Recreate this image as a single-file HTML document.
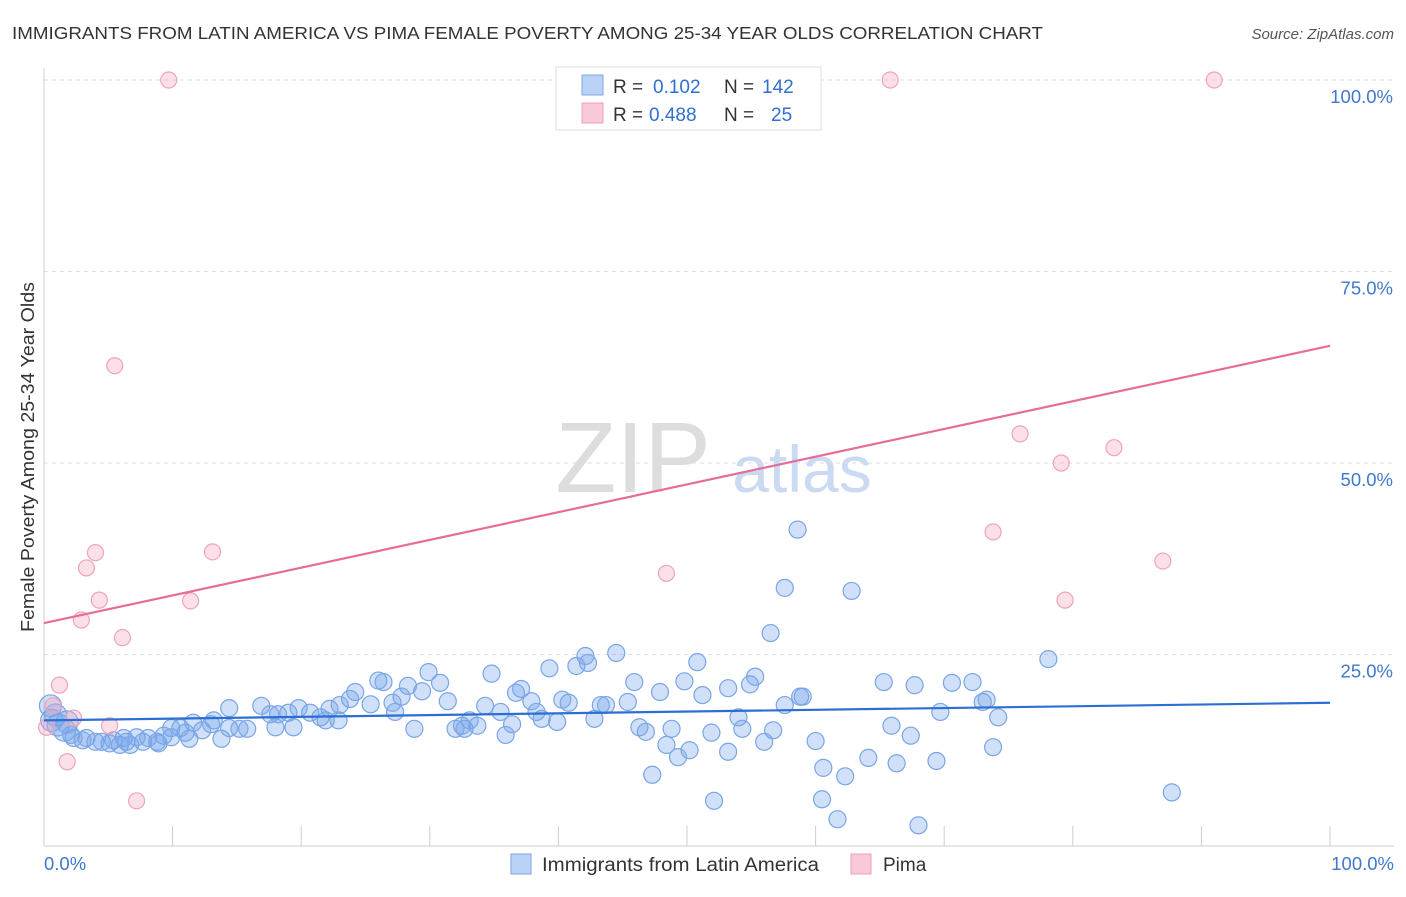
<!DOCTYPE html>
<html><head><meta charset="utf-8"><style>
body{margin:0;background:#fff;font-family:"Liberation Sans",sans-serif;}
svg text{font-family:"Liberation Sans",sans-serif;}
</style></head><body>
<svg id="c" width="1406" height="892">
<text x="12" y="39" font-size="17.5" fill="#333" textLength="1031" lengthAdjust="spacingAndGlyphs">IMMIGRANTS FROM LATIN AMERICA VS PIMA FEMALE POVERTY AMONG 25-34 YEAR OLDS CORRELATION CHART</text>
<text x="1394" y="39" font-size="15" fill="#555" text-anchor="end" font-style="italic">Source: ZipAtlas.com</text>
<text transform="translate(34,632) rotate(-90)" font-size="18" fill="#333" textLength="350" lengthAdjust="spacingAndGlyphs">Female Poverty Among 25-34 Year Olds</text>
<text x="633" y="492" font-size="100" fill="#ddd" font-family="Liberation Serif" text-anchor="middle">ZIP</text>
<text x="802" y="492" font-size="66" fill="#c9daf2" text-anchor="middle">atlas</text>
<g id="grid"></g><g id="axes"></g><g id="pts"></g><g id="lines"></g>
<g>
<rect x="556" y="67" width="265" height="63" fill="#fff" stroke="#ddd"/>
<rect x="582" y="75" width="21" height="20" fill="#b9d2f5" stroke="#7fa7e3"/>
<text x="613" y="93" font-size="19" fill="#333">R =</text>
<text x="653" y="93" font-size="19" fill="#2f6fd0">0.102</text>
<text x="724" y="93" font-size="19" fill="#333">N =</text>
<text x="762" y="93" font-size="19" fill="#2f6fd0">142</text>
<rect x="582" y="103" width="21" height="20" fill="#f8c9d8" stroke="#eea0b9"/>
<text x="613" y="121" font-size="19" fill="#333">R =</text>
<text x="649" y="121" font-size="19" fill="#2f6fd0">0.488</text>
<text x="724" y="121" font-size="19" fill="#333">N =</text>
<text x="771" y="121" font-size="19" fill="#2f6fd0">25</text>
</g>
<g>
<rect x="511" y="854" width="20" height="20" fill="#b9d2f5" stroke="#7fa7e3"/>
<text x="542" y="871" font-size="19" fill="#333" textLength="277" lengthAdjust="spacingAndGlyphs">Immigrants from Latin America</text>
<rect x="851" y="854" width="20" height="20" fill="#f8c9d8" stroke="#eea0b9"/>
<text x="883" y="871" font-size="19" fill="#333">Pima</text>
</g>
</svg>
<script>
const blueX=[58.6,57.6,62.8,56.5,44.5,42.1,42.3,41.4,39.3,34.8,29.9,50.8,78.1,55.3,54.9,53.2,49.8,45.9,47.9,51.2,65.3,67.7,70.6,72.2,26.0,26.4,30.8,28.3,24.2,37.1,36.7,29.4,27.8,23.8,31.4,37.9,40.3,40.8,43.3,43.7,45.4,34.3,27.1,25.4,27.3,23.0,22.2,19.8,16.9,14.4,17.6,19.0,20.7,21.5,21.9,22.9,35.5,38.3,38.7,39.9,36.4,33.1,32.5,33.7,32.0,32.7,28.8,35.9,42.8,46.3,46.8,48.8,54.0,54.3,56.7,57.6,58.8,59.0,73.0,73.3,74.2,69.7,65.9,67.4,73.8,51.9,56.0,60.0,48.4,50.2,49.3,53.2,64.1,66.3,69.4,60.6,62.3,47.3,52.1,60.5,61.7,68.0,87.7,18.2,18.0,19.4,15.8,15.2,14.4,13.0,13.2,11.6,12.3,11.0,10.6,9.9,9.3,13.8,11.3,9.9,8.8,8.1,7.7,7.2,6.4,6.2,5.4,5.1,4.5,4.0,3.3,3.0,2.3,2.1,1.6,1.1,0.6,0.5,0.9,1.8,8.9,5.9,6.7];
const blueY=[41.3,33.7,33.3,27.8,25.2,24.8,23.9,23.5,23.2,22.5,22.7,24.0,24.4,22.1,21.1,20.6,21.5,21.4,20.1,19.7,21.4,21.0,21.3,21.4,21.6,21.4,21.3,20.9,20.1,20.5,20.0,20.2,19.5,19.2,18.9,18.9,19.1,18.7,18.4,18.4,18.8,18.3,18.7,18.5,17.5,18.4,17.9,18.0,18.3,18.0,17.2,17.4,17.4,16.8,16.4,16.4,17.5,17.5,16.6,16.2,15.9,16.4,15.7,15.7,15.3,15.3,15.3,14.5,16.6,15.5,14.9,15.3,16.8,15.3,15.1,18.4,19.5,19.5,18.8,19.1,16.8,17.5,15.7,14.4,12.9,14.8,13.6,13.7,13.2,12.5,11.6,12.3,11.5,10.8,11.1,10.2,9.1,9.3,5.9,6.1,3.5,2.7,7.0,17.2,15.5,15.5,15.3,15.3,15.4,15.9,16.4,16.1,15.1,14.8,15.4,15.4,14.4,14.0,14.0,14.2,13.6,14.1,13.6,14.2,13.6,14.1,13.8,13.4,13.6,13.6,14.1,13.8,14.1,14.5,15.1,15.8,16.4,18.3,17.1,16.2,13.4,13.2,13.2];
const pinkX=[9.7,65.8,91.0,5.5,75.9,83.2,79.1,73.8,87.0,48.4,13.1,4.0,3.3,4.3,11.4,79.4,2.9,6.1,1.2,0.7,2.3,5.1,0.2,1.8,7.2];
const pinkY=[100,100,100,62.7,53.8,52.0,50.0,41.0,37.2,35.6,38.4,38.3,36.3,32.1,32.0,32.1,29.5,27.2,21.0,18.3,16.7,15.7,15.5,11.0,5.9];
const blueLine=[16.4,18.7], pinkLine=[29.1,65.3];
const yTicks=[25,50,75,100];
const xTickLabels=["0.0%","100.0%"];
const NS="http://www.w3.org/2000/svg";
const sx=v=>44+v*12.86, sy=v=>846-v*7.66;
function mk(p,t,a){const e=document.createElementNS(NS,t);for(const k in a)e.setAttribute(k,a[k]);document.getElementById(p).appendChild(e);return e;}
yTicks.forEach(t=>{
 const g=mk('grid','line',{x1:44,x2:1394,y1:sy(t),y2:sy(t),stroke:'#ddd','stroke-dasharray':'4,4'});
 
 
 const l=mk('axes','text',{x:1393,y:sy(t)+23,'font-size':18.5,fill:'#3f78cc','text-anchor':'end'});l.textContent=t.toFixed(1)+'%';
 
 
});
const ax=mk('axes','line',{x1:44,x2:1394,y1:846,y2:846,stroke:'#ccc'});


const ay=mk('axes','line',{x1:44,x2:44,y1:68,y2:846,stroke:'#ccc'});


for(let i=1;i<=10;i++){const t=mk('axes','line',{x1:sx(i*10),x2:sx(i*10),y1:826,y2:846,stroke:'#ccc'});
 
 }
[[0,'start',44],[1,'end',1394]].forEach(([i,a,x])=>{const l=mk('axes','text',{x:x,y:870,'font-size':18.5,fill:'#3f78cc','text-anchor':a});l.textContent=xTickLabels[i];
 
 });
blueX.forEach((x,i)=>{const c=mk('pts','circle',{cx:sx(x),cy:sy(blueY[i]),r:x<2?11:8.5,fill:'rgba(120,165,235,0.35)',stroke:'#7aa5e6','stroke-width':1.2});
 
 });
pinkX.forEach((x,i)=>{const c=mk('pts','circle',{cx:sx(x),cy:sy(pinkY[i]),r:8,fill:'rgba(245,165,190,0.35)',stroke:'#f0a3bc','stroke-width':1.2});
 
 });
const bl=mk('lines','line',{x1:sx(0),x2:sx(100),y1:sy(blueLine[0]),y2:sy(blueLine[1]),stroke:'#2c6fd3','stroke-width':2.2});


const pl=mk('lines','line',{x1:sx(0),x2:sx(100),y1:sy(pinkLine[0]),y2:sy(pinkLine[1]),stroke:'#e56d97','stroke-width':2.2});


</script>
</body></html>
